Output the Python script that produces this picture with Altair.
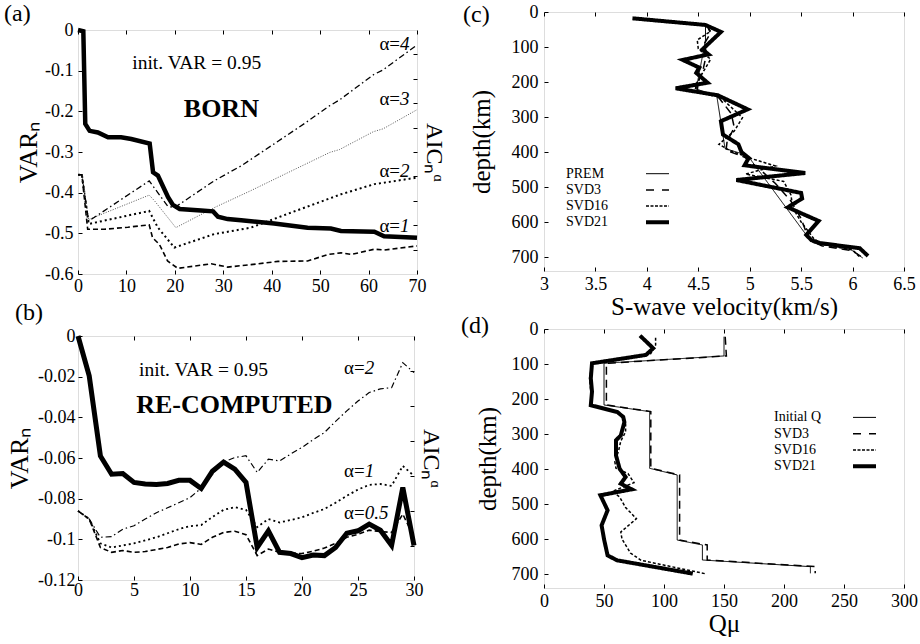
import altair as alt
import pandas as pd

FONT = "Liberation Serif"
T = 4  # inward tick length (px)
LBL = "replace(format(datum.value, '~g'), '\u2212', '-')"

# ---------------- panel (a): BORN ----------------
a_var_x = [0, 1.1, 1.5, 2.4, 4.1, 6.2, 8.9, 11, 14.8, 15.5, 16.5, 18.6, 19.6, 21, 25.4, 27.9, 28.9,
           30.9, 33.7, 40.5, 47.4, 52.2, 54.3, 61.2, 63.2, 70]
a_var_y = [0, -0.003, -0.231, -0.248, -0.252, -0.264, -0.264, -0.268, -0.279, -0.350, -0.358, -0.411,
           -0.430, -0.440, -0.444, -0.446, -0.459, -0.465, -0.468, -0.476, -0.486, -0.488, -0.494,
           -0.496, -0.507, -0.511]
a_aic4_x = [0, 0.8, 2.2, 14.7, 18.5, 19.9, 28.1, 33.7, 40.5, 47, 52, 54, 61, 63, 70]
a_aic4_y = [-0.356, -0.356, -0.470, -0.371, -0.433, -0.437, -0.371, -0.334, -0.280, -0.228, -0.186,
            -0.172, -0.110, -0.098, -0.037]
a_aic3_x = [0, 0.8, 2.2, 14.7, 15.8, 20.2, 28.1, 35.7, 44, 52, 54, 61, 63, 70]
a_aic3_y = [-0.356, -0.356, -0.466, -0.406, -0.420, -0.486, -0.437, -0.395, -0.347, -0.301, -0.294,
            -0.250, -0.243, -0.196]
a_aic2_x = [0, 0.8, 2.2, 14.7, 16.5, 19.9, 28.1, 35.7, 44, 54.3, 61.2, 70]
a_aic2_y = [-0.356, -0.356, -0.477, -0.445, -0.486, -0.535, -0.502, -0.486, -0.449, -0.404, -0.379, -0.363]
a_aic1_x = [0, 0.8, 2.0, 5.4, 10.3, 14.7, 15.4, 16.8, 18.5, 20.6, 27.5, 30.9, 35.7, 41.3, 47.4, 51.6,
            54.3, 56.4, 61.2, 63.3, 70]
a_aic1_y = [-0.356, -0.356, -0.490, -0.490, -0.485, -0.479, -0.511, -0.527, -0.568, -0.586, -0.575,
            -0.583, -0.577, -0.569, -0.568, -0.552, -0.548, -0.552, -0.539, -0.541, -0.531]
a_xticks = [0, 10, 20, 30, 40, 50, 60, 70]
a_yticks = [0, -0.1, -0.2, -0.3, -0.4, -0.5, -0.6]
a_aic_ticks = [-0.06, -0.12, -0.18, -0.24, -0.30, -0.36, -0.42, -0.48, -0.54]
a_alpha = ["4", "3", "2", "1"]
a_alpha_y = [-0.034, -0.170, -0.347, -0.482]

# ---------------- panel (b): RE-COMPUTED ----------------
b_x = [0, 1, 2, 3, 4, 5, 6, 7, 8, 9, 10, 11, 12, 13, 14, 15, 16, 17, 18, 19, 20, 21, 22, 23, 24, 25,
       26, 27, 28, 29, 30]
b_var = [0, -0.0196, -0.059, -0.068, -0.0676, -0.072, -0.0728, -0.073, -0.0725, -0.071, -0.071, -0.075,
         -0.0665, -0.062, -0.0655, -0.072, -0.104, -0.0958, -0.1064, -0.107, -0.109, -0.1077, -0.108,
         -0.104, -0.097, -0.0958, -0.0925, -0.0955, -0.103, -0.0745, -0.103]
b_aic2 = [-0.086, -0.090, -0.099, -0.0987, -0.095, -0.0933, -0.090, -0.0869, -0.0845, -0.082, -0.0795,
          -0.0748, -0.068, -0.062, -0.0598, -0.0589, -0.0671, -0.0606, -0.0614, -0.058, -0.0548, -0.051,
          -0.0475, -0.042, -0.0368, -0.032, -0.0278, -0.026, -0.0254, -0.0131, -0.018]
b_aic1 = [-0.086, -0.090, -0.102, -0.104, -0.103, -0.102, -0.1005, -0.099, -0.097, -0.095, -0.0935,
          -0.093, -0.089, -0.0855, -0.0842, -0.0855, -0.094, -0.090, -0.0917, -0.0905, -0.0892, -0.087,
          -0.0851, -0.082, -0.0786, -0.0755, -0.0732, -0.0728, -0.0737, -0.0639, -0.0688]
b_aic05 = [-0.086, -0.090, -0.104, -0.1064, -0.1055, -0.1064, -0.106, -0.105, -0.104, -0.1023, -0.1016,
           -0.1025, -0.099, -0.0966, -0.096, -0.0977, -0.108, -0.1048, -0.1064, -0.1068, -0.107, -0.1058,
           -0.1043, -0.102, -0.099, -0.0975, -0.0955, -0.0962, -0.0966, -0.0876, -0.099]
b_xticks = [0, 5, 10, 15, 20, 25, 30]
b_yticks = [0, -0.02, -0.04, -0.06, -0.08, -0.1, -0.12]
b_aic_ticks = [-0.0172, -0.0344, -0.0516, -0.0688, -0.086, -0.1032]
b_alpha = ["2", "1", "0.5"]
b_alpha_y = [-0.0157, -0.0664, -0.0869]

# ---------------- panel (c): S-wave velocity ----------------
c_models = ["PREM", "SVD3", "SVD16", "SVD21"]
c_prem_d = [37, 80, 220, 240, 390, 410, 645, 660, 678, 703]
c_prem_v = [4.57, 4.57, 4.48, 4.68, 4.76, 4.98, 5.57, 5.62, 5.98, 6.10]
c_svd3_d = [37, 60, 90, 120, 160, 200, 225, 245, 290, 330, 370, 395, 415, 450, 490, 540, 590, 630, 655,
            668, 682, 700]
c_svd3_v = [4.58, 4.62, 4.56, 4.58, 4.55, 4.50, 4.49, 4.70, 4.82, 4.85, 4.78, 4.77, 4.95, 5.10, 5.25,
            5.40, 5.50, 5.55, 5.60, 5.70, 6.00, 6.09]
c_svd16_d = [37, 55, 80, 105, 135, 170, 205, 225, 245, 302, 340, 378, 395, 420, 440, 463, 484, 522, 560,
             600, 650, 665, 680, 700]
c_svd16_v = [4.57, 4.62, 4.49, 4.50, 4.62, 4.55, 4.48, 4.47, 4.72, 4.93, 4.85, 4.70, 4.80, 5.03, 5.25,
             4.96, 5.33, 5.40, 5.42, 5.50, 5.63, 5.72, 6.00, 6.07]
c_svd21_d = [18, 37, 57, 107, 121, 137, 159, 174, 202, 218, 238, 278, 312, 350, 378, 400, 417, 438, 460,
             480, 517, 533, 558, 597, 637, 652, 660, 675, 697]
c_svd21_v = [3.86, 4.57, 4.72, 4.54, 4.60, 4.35, 4.51, 4.48, 4.59, 4.28, 4.69, 4.98, 4.72, 4.74, 4.89,
             4.92, 4.99, 4.95, 5.54, 4.87, 5.50, 5.51, 5.37, 5.67, 5.55, 5.60, 5.68, 6.07, 6.15]
c_xticks = [3, 3.5, 4, 4.5, 5, 5.5, 6, 6.5]
depth_ticks = [0, 100, 200, 300, 400, 500, 600, 700]

# ---------------- panel (d): Q mu ----------------
d_models = ["Initial Q", "SVD3", "SVD16", "SVD21"]
d_init_d = [22, 77, 98, 217, 236, 398, 417, 603, 617, 660, 679, 698]
d_init_q = [150, 150, 50, 50, 88, 88, 111, 111, 132, 132, 222, 222]
d_svd3_d = [22, 77, 98, 217, 236, 398, 417, 603, 617, 660, 679, 698]
d_svd3_q = [151, 152, 52, 52, 89, 89, 113, 113, 136, 136, 226, 226]
d_svd16_d = [25, 46, 70, 98, 140, 180, 218, 237, 265, 294, 320, 350, 379, 398, 413, 439, 464, 480, 510,
             542, 580, 600, 640, 661, 699]
d_svd16_q = [93, 93, 89, 40, 38, 39, 40, 62, 68, 68, 64, 62, 59, 60, 70, 75, 57, 63, 68, 77, 64, 65, 72,
             81, 134]
d_svd21_d = [19, 55, 74, 98, 141, 179, 218, 237, 251, 266, 304, 318, 361, 399, 423, 442, 458, 475, 518,
             561, 600, 647, 661, 699]
d_svd21_q = [80, 91, 85, 40, 39, 40, 39, 61, 66, 67, 64, 60, 60, 63, 68, 64, 73, 47, 53, 48, 50, 53, 61,
             124]
d_xticks = [0, 50, 100, 150, 200, 250, 300]

# line styles for the profile models, in model order
PROFILE_DASH = [[1, 0], [8, 5], [3, 2], [1, 0]]
LEGEND_DASH = [[1, 0], [8, 8], [3, 1.5], [1, 0]]
PROFILE_WIDTH = [1.0, 1.5, 1.5, 4.0]


def ax(orient, values, title=None, labels=True, lpad=4, tpad=4, tsize=25):
    return alt.Axis(orient=orient, values=values, title=title, labels=labels,
                    offset=-T, tickSize=T, tickColor="black", tickWidth=1,
                    domain=False, grid=False, labelPadding=lpad, labelFont=FONT,
                    labelFontSize=18, labelColor="black", labelExpr=LBL,
                    labelFlush=False, labelOverlap=False,
                    titleFont=FONT, titleFontSize=tsize, titleFontWeight="normal",
                    titleColor="black", titlePadding=tpad)


HIDDEN_RIGHT = alt.Axis(orient="right", ticks=False, labels=False, domain=False, grid=False, title=None)


def series(xs, ys, xsc, ysc, xaxis=None, yaxis=None, **mk):
    df = pd.DataFrame({"x": xs, "y": ys})
    return alt.Chart(df).mark_line(**mk).encode(
        x=alt.X("x:Q", scale=xsc, axis=xaxis),
        y=alt.Y("y:Q", scale=ysc, axis=yaxis),
    )


def profile(ds, vs, xsc, ysc, xaxis=None, yaxis=None, **mk):
    df = pd.DataFrame({"depth": ds, "val": vs, "i": list(range(len(ds)))})
    return alt.Chart(df).mark_line(color="black", **mk).encode(
        x=alt.X("val:Q", scale=xsc, axis=xaxis),
        y=alt.Y("depth:Q", scale=ysc, axis=yaxis),
        order=alt.Order("i:Q"),
    )


def label(txts, xs, ys, xsc, ysc, **mk):
    df = pd.DataFrame({"x": xs, "y": ys, "t": txts})
    return alt.Chart(df).mark_text(font=FONT, color="black", **mk).encode(
        x=alt.X("x:Q", scale=xsc, axis=None),
        y=alt.Y("y:Q", scale=ysc, axis=None),
        text="t:N",
    )


def tag(txt, px, py):
    return alt.Chart(pd.DataFrame({"t": [txt]})).mark_text(
        font=FONT, fontSize=24, align="left", baseline="middle", color="black"
    ).encode(x=alt.value(px), y=alt.value(py), text="t:N")


def alpha_labels(vals, anchor_x, ys, xsc, ysc):
    pre = label(["\u03b1="] * len(vals), [anchor_x] * len(vals), ys, xsc, ysc,
                fontSize=19, align="right", baseline="middle")
    num = label(vals, [anchor_x] * len(vals), ys, xsc, ysc,
                fontSize=19, align="left", baseline="middle", fontStyle="italic")
    return [pre, num]


def key(models, lx, sx1, sx2, y0, step):
    """legend drawn as label text followed by a line sample on its right"""
    out = []
    for k, (m, dash, w) in enumerate(zip(models, LEGEND_DASH, PROFILE_WIDTH)):
        py = y0 + k * step
        df = pd.DataFrame({"t": [m]})
        out.append(alt.Chart(df).mark_text(font=FONT, fontSize=14, align="left", baseline="middle",
                                           color="black").encode(
            x=alt.value(lx), y=alt.value(py), text="t:N"))
        out.append(alt.Chart(df).mark_rule(color="black", strokeDash=dash, strokeWidth=w,
                                           strokeCap="butt").encode(
            x=alt.value(sx1), x2=alt.value(sx2), y=alt.value(py)))
    return out


# ---------------- build panel (a) ----------------
xa = alt.Scale(domain=[0, 70], nice=False, zero=False)
ya = alt.Scale(domain=[-0.6, 0], nice=False, zero=False)
panel_a = alt.layer(
    series(a_aic1_x, a_aic1_y, xa, ya,
           ax("top", a_xticks, labels=False),
           ax("right", a_aic_ticks, title="AIC\u2099\u1d45", labels=False, tpad=4, tsize=24),
           color="black", strokeWidth=1.6, strokeDash=[5, 3]),
    series(a_aic2_x, a_aic2_y, xa, ya, color="black", strokeWidth=2, strokeDash=[2, 3]),
    series(a_aic3_x, a_aic3_y, xa, ya, color="#555555", strokeWidth=1, strokeDash=[1, 1.5]),
    series(a_aic4_x, a_aic4_y, xa, ya, color="black", strokeWidth=1.3, strokeDash=[6, 3, 1.5, 3]),
    series(a_var_x, a_var_y, xa, ya,
           ax("bottom", a_xticks, lpad=3),
           ax("left", a_yticks, title="VAR\u2099", lpad=5, tpad=3, tsize=26),
           color="black", strokeWidth=4.5),
    label(["init. VAR = 0.95"], [11.2], [-0.082], xa, ya, fontSize=19.5, align="left", baseline="middle"),
    label(["BORN"], [29.6], [-0.194], xa, ya, fontSize=26, fontWeight="bold", align="center",
          baseline="middle"),
    *alpha_labels(a_alpha, 66.5, a_alpha_y, xa, ya),
    tag("(a)", -74, -16),
).properties(width=339, height=244)

# ---------------- build panel (b) ----------------
xb = alt.Scale(domain=[0, 30], nice=False, zero=False)
yb = alt.Scale(domain=[-0.12, 0], nice=False, zero=False)
panel_b = alt.layer(
    series(b_x, b_aic05, xb, yb,
           ax("top", b_xticks, labels=False),
           ax("right", b_aic_ticks, title="AIC\u2099\u1d45", labels=False, tpad=4, tsize=24),
           color="black", strokeWidth=1.6, strokeDash=[5, 3]),
    series(b_x, b_aic1, xb, yb, color="black", strokeWidth=1.8, strokeDash=[2, 3]),
    series(b_x, b_aic2, xb, yb, color="black", strokeWidth=1.2, strokeDash=[6, 3, 1.5, 3]),
    series(b_x, b_var, xb, yb,
           ax("bottom", b_xticks, lpad=1),
           ax("left", b_yticks, title="VAR\u2099", lpad=3, tpad=5, tsize=26),
           color="black", strokeWidth=5),
    label(["init. VAR = 0.95"], [5.45], [-0.0169], xb, yb, fontSize=19.5, align="left", baseline="middle"),
    label(["RE-COMPUTED"], [13.96], [-0.0341], xb, yb, fontSize=26, fontWeight="bold", align="center",
          baseline="middle"),
    *alpha_labels(b_alpha, 25.6, b_alpha_y, xb, yb),
    tag("(b)", -63, -23),
).properties(width=336, height=244)

# ---------------- build panel (c) ----------------
xc = alt.Scale(domain=[3, 6.5], nice=False, zero=False)
yc = alt.Scale(domain=[0, 740], reverse=True, nice=False, zero=False)
c_series = [(c_prem_d, c_prem_v), (c_svd3_d, c_svd3_v), (c_svd16_d, c_svd16_v), (c_svd21_d, c_svd21_v)]
c_layers = []
for k, ((ds, vs), dash, w) in enumerate(zip(c_series, PROFILE_DASH, PROFILE_WIDTH)):
    if k == 0:
        c_layers.append(profile(ds, vs, xc, yc,
                                ax("bottom", c_xticks, title="S-wave velocity(km/s)", lpad=4, tpad=1),
                                ax("left", depth_ticks, title="depth(km)", lpad=6, tpad=17),
                                strokeDash=dash, strokeWidth=w))
    elif k == 1:
        c_layers.append(profile(ds, vs, xc, yc, ax("top", c_xticks, labels=False), HIDDEN_RIGHT,
                                strokeDash=dash, strokeWidth=w))
    else:
        c_layers.append(profile(ds, vs, xc, yc, strokeDash=dash, strokeWidth=w))
panel_c = alt.layer(
    *c_layers,
    *key(c_models, 22, 102, 125, 161.7, 16.2),
    tag("(c)", -81, 3),
).properties(width=360, height=259)

# ---------------- build panel (d) ----------------
xd = alt.Scale(domain=[0, 300], nice=False, zero=False)
yd = alt.Scale(domain=[0, 740], reverse=True, nice=False, zero=False)
d_series = [(d_init_d, d_init_q), (d_svd3_d, d_svd3_q), (d_svd16_d, d_svd16_q), (d_svd21_d, d_svd21_q)]
d_layers = []
for k, ((ds, vs), dash, w) in enumerate(zip(d_series, PROFILE_DASH, PROFILE_WIDTH)):
    if k == 0:
        d_layers.append(profile(ds, vs, xd, yd,
                                ax("bottom", d_xticks, title="Q\u03bc", lpad=4, tpad=1),
                                ax("left", depth_ticks, title="depth(km)", lpad=6, tpad=11),
                                strokeDash=dash, strokeWidth=w))
    elif k == 1:
        d_layers.append(profile(ds, vs, xd, yd, ax("top", d_xticks, labels=False), HIDDEN_RIGHT,
                                strokeDash=dash, strokeWidth=w))
    else:
        d_layers.append(profile(ds, vs, xd, yd, strokeDash=dash, strokeWidth=w))
panel_d = alt.layer(
    *d_layers,
    *key(d_models, 230, 309, 332, 88.4, 16.3),
    tag("(d)", -83, -3),
).properties(width=360, height=259)

# ---------------- layout ----------------
spacer = alt.Chart(pd.DataFrame({"s": [0]})).mark_point(opacity=0).encode(
    x=alt.value(0), y=alt.value(0)
).properties(width=1, height=18, view=alt.ViewBackground(stroke="transparent"))

left_ab = alt.vconcat(panel_a, panel_b, spacing=62, bounds="flush")
left_col = alt.vconcat(spacer, left_ab, spacing=0, bounds="flush")
right_col = alt.vconcat(panel_c, panel_d, spacing=58, bounds="flush")

chart = alt.hconcat(left_col, right_col, spacing=466, bounds="flush").properties(
    padding={"left": 3, "top": 1, "right": 0, "bottom": 0}
).configure_view(stroke="black", strokeWidth=1).configure(font=FONT)

chart.save("out.html", embed_options={"renderer": "svg", "actions": False})
